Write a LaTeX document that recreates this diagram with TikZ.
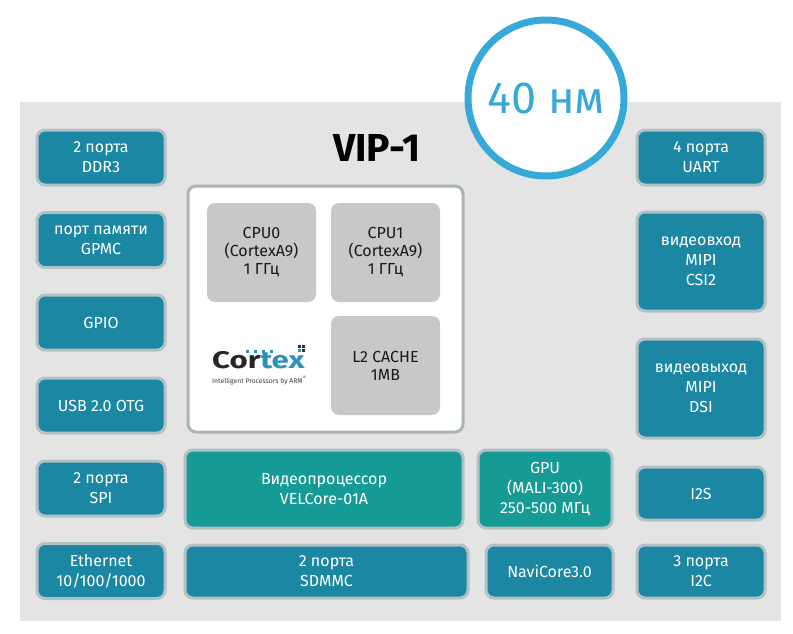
\documentclass[tikz,border=0pt]{standalone}
\usepackage{fontspec}
\setmainfont{Fira Sans}
\definecolor{chipgray}{HTML}{E4E4E4}
\definecolor{portblue}{HTML}{1B87A2}
\definecolor{coreteal}{HTML}{169A95}
\definecolor{rimgray}{HTML}{B3C1C6}
\definecolor{cpugray}{HTML}{C8C8C8}
\definecolor{ringblue}{HTML}{36A9D9}
\definecolor{cortexblue}{HTML}{2A93B8}
\begin{document}
\begin{tikzpicture}[x=1pt,y=-1pt,
    block/.style={rectangle, rounded corners=8pt, draw=rimgray, line width=3pt,
      text=white, align=center, inner sep=0pt,
      font=\fontsize{16}{20}\selectfont},
    portbox/.style={block, fill=portblue, minimum width=128pt},
    corebox/.style={block, fill=coreteal},
    cpubox/.style={rectangle, rounded corners=8pt, fill=cpugray, text=black!90,
      align=center, minimum width=109pt, minimum height=99pt,
      font=\fontsize{16}{18}\selectfont}]
  \useasboundingbox (0,0) rectangle (793,633);
  \fill [chipgray] (20,102) rectangle (781,621);
  % left column
  \node [portbox, minimum height=55pt] (ddr) at (101,157.5) {2 порта\\DDR3};
  \node [portbox, minimum height=55pt] (gpmc) at (101,240) {порт памяти\\GPMC};
  \node [portbox, minimum height=55pt] (gpio) at (101,322.5) {GPIO};
  \node [portbox, minimum height=55pt] (usb) at (101,405.5) {USB 2.0 OTG};
  \node [portbox, minimum height=55pt] (spi) at (101,488.5) {2 порта\\SPI};
  \node [portbox, minimum height=55pt] (eth) at (101,571) {Ethernet\\10/100/1000};
  % right column
  \node [portbox, minimum height=55pt] (uart) at (701,157.5) {4 порта\\UART};
  \node [portbox, minimum height=99pt] (csi) at (701,261.5) {видеовход\\MIPI\\CSI2};
  \node [portbox, minimum height=99pt] (dsi) at (701,388.5) {видеовыход\\MIPI\\DSI};
  \node [portbox, minimum height=53pt] (iis) at (701,493.5) {I2S};
  \node [portbox, minimum height=53pt] (iic) at (701,571.5) {3 порта\\I2C};
  % processor block
  \node [font=\fontsize{39}{40}\selectfont\bfseries] (title) at (377,148) {VIP-1};
  \node [rectangle, rounded corners=8pt, draw=rimgray!80!gray, line width=3pt, fill=white,
    minimum width=275pt, minimum height=246pt] (cpu) at (325.5,309) {};
  \node [cpubox] (cpu0) at (261.5,252.5) {CPU0\\(CortexA9)\\1 ГГц};
  \node [cpubox] (cpu1) at (385.5,252.5) {CPU1\\(CortexA9)\\1 ГГц};
  \node [cpubox] (cache) at (385.5,365.5) {L2 CACHE\\1MB};
  % cortex logo
  \node [anchor=base west, inner sep=0pt, font=\fontsize{24}{24}\selectfont\bfseries]
    (logo) at (212,368) {\scalebox{1.3}[1]{\textcolor{black!85}{Cor}\textcolor{cortexblue}{tex}}};
  \node [anchor=base west, inner sep=0pt, text=black!75, font=\fontsize{6.8}{7}\selectfont]
    (slogan) at (212,383) {Intelligent Processors by ARM\textsuperscript{®}};
  \foreach \x in {246,254,262,270}
    \fill [cortexblue] (\x,350) rectangle ++(3,3);
  \fill [black!80] (298,345) rectangle ++(3,3);
  \fill [black!80] (302,345) rectangle ++(3,3);
  \fill [cortexblue] (298,349) rectangle ++(3,3);
  \fill [black!80] (302,349) rectangle ++(3,3);
  % lower blocks
  \node [corebox, minimum width=278pt, minimum height=78pt] (vpu) at (324,489) {Видеопроцессор\\VELCore-01A};
  \node [corebox, minimum width=134pt, minimum height=78pt] (gpu) at (545,489) {GPU\\(MALI-300)\\250-500 МГц};
  \node [portbox, minimum width=283pt, minimum height=53pt] (sdmmc) at (326.5,571.5) {2 порта\\SDMMC};
  \node [portbox, minimum width=127pt, minimum height=53pt] (navi) at (549.5,571.5) {NaviCore3.0};
  % process badge
  \node [circle, draw=ringblue, line width=7pt, fill=white, minimum size=156pt,
    text=ringblue, font=\fontsize{45}{45}\selectfont] (nm) at (546,98) {40 нм};
\end{tikzpicture}
\end{document}
